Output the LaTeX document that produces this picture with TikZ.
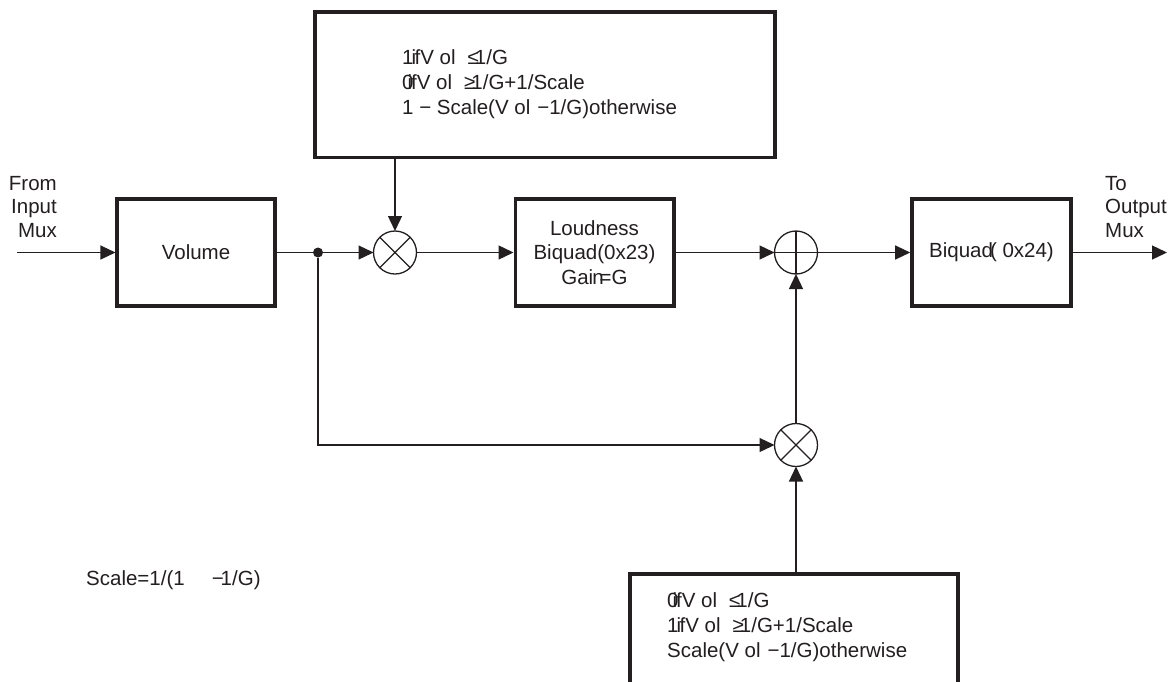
\documentclass[tikz,border=0pt]{standalone}
\usepackage{fontspec}
\setmainfont{Liberation Sans}
\usetikzlibrary{arrows.meta}
\definecolor{ink}{HTML}{231F20}
\begin{document}
\begin{tikzpicture}[x=1pt,y=-1pt,
  txt/.style={text=ink, font=\fontsize{20.5}{25}\selectfont, inner sep=0pt},
  blk/.style={draw=ink, line width=3.6pt, inner sep=0pt, text=ink, font=\fontsize{20.5}{24.5}\selectfont, align=center},
  op/.style={circle, draw=ink, line width=1.3pt, minimum size=43pt, inner sep=0pt, outer sep=0pt},
  wire/.style={draw=ink, line width=1.3pt},
  arr/.style={wire, -{Triangle[length=15pt,width=14pt]}}]
\fill[white] (0,0) rectangle (1173,681);
\useasboundingbox (0,0) rectangle (1173,681);

% blocks
\node[blk, minimum width=157.5pt, minimum height=107pt] (vol) at (196,252.5) {Volume};
\node[blk, minimum width=158.4pt, minimum height=107pt] (ld) at (594.5,252.5) {Loudness\\Biquad(0x23)\\Gai\kern-1pt n\kern-4pt=G};
\node[blk, minimum width=159pt, minimum height=107pt] (bq) at (991.5,252.5) {Biquad\kern-3pt( 0x24)};
\node[blk, minimum width=460pt, minimum height=145.3pt] (top) at (544.7,84.7) {};
\node[blk, minimum width=328pt, minimum height=126pt] (bot) at (794,637) {};

% texts in the large boxes
\node[txt, anchor=west, align=left] (toptxt) at (402,84) {1\kern-2pt i\kern-1.5pt fV ol\hspace{12pt}≤\kern-4pt 1/G\\0\kern-6pt i\kern-1pt fV ol\hspace{12pt}≥\kern-4pt 1/G+1/Scale\\1 − Scale(V ol\hspace{7pt}−1/G)otherwise};
\node[txt, anchor=west, align=left] (bottxt) at (667,627.5) {0\kern-6pt i\kern-1pt fV ol\hspace{12pt}≤\kern-4pt 1/G\\1\kern-2pt i\kern-1.5pt fV ol\hspace{12pt}≥\kern-4pt 1/G+1/Scale\\Scale(V ol\hspace{7pt}−1/G)otherwise};

% free labels
\node[txt, anchor=east, align=right, font=\fontsize{20.5}{23.5}\selectfont] (from) at (57,207) {From\\Input\\Mux};
\node[txt, anchor=west, align=left, font=\fontsize{20.5}{23.5}\selectfont] (to) at (1105,207) {To\\Output\\Mux};
\node[txt, anchor=west] (scale) at (86,580) {Scale=1/(1\hspace{30pt}\kern-3pt−\kern-3pt 1/G)};

% operators
\node[op] (m1) at (395,252.5) {};
\node[op] (add) at (796,252.5) {};
\node[op] (m2) at (796,445) {};
\draw[wire] (m1.45) -- (m1.225) (m1.135) -- (m1.315);
\draw[wire] (m2.45) -- (m2.225) (m2.135) -- (m2.315);
\draw[wire] (add.north) -- (add.south) (add.west) -- (add.east);

% junction
\node[circle, fill=ink, inner sep=0pt, minimum size=10pt] (j) at (318,252.5) {};

% connectors
\coordinate (in) at (17,252.5);
\coordinate (out) at (1167,252.5);
\draw[arr] (in) -- (vol.west);
\draw[wire] (vol.east) -- (j);
\draw[arr] (j) -- (m1.west);
\draw[arr] (m1 |- top.south) -- (m1.north);
\draw[arr] (m1.east) -- (ld.west);
\draw[arr] (ld.east) -- (add.west);
\draw[arr] (add.east) -- (bq.west);
\draw[arr] (bq.east) -- (out);
\draw[arr] (j) |- (m2.west);
\draw[arr] (m2.north) -- (add.south);
\draw[arr] (m2 |- bot.north) -- (m2.south);
\end{tikzpicture}
\end{document}
